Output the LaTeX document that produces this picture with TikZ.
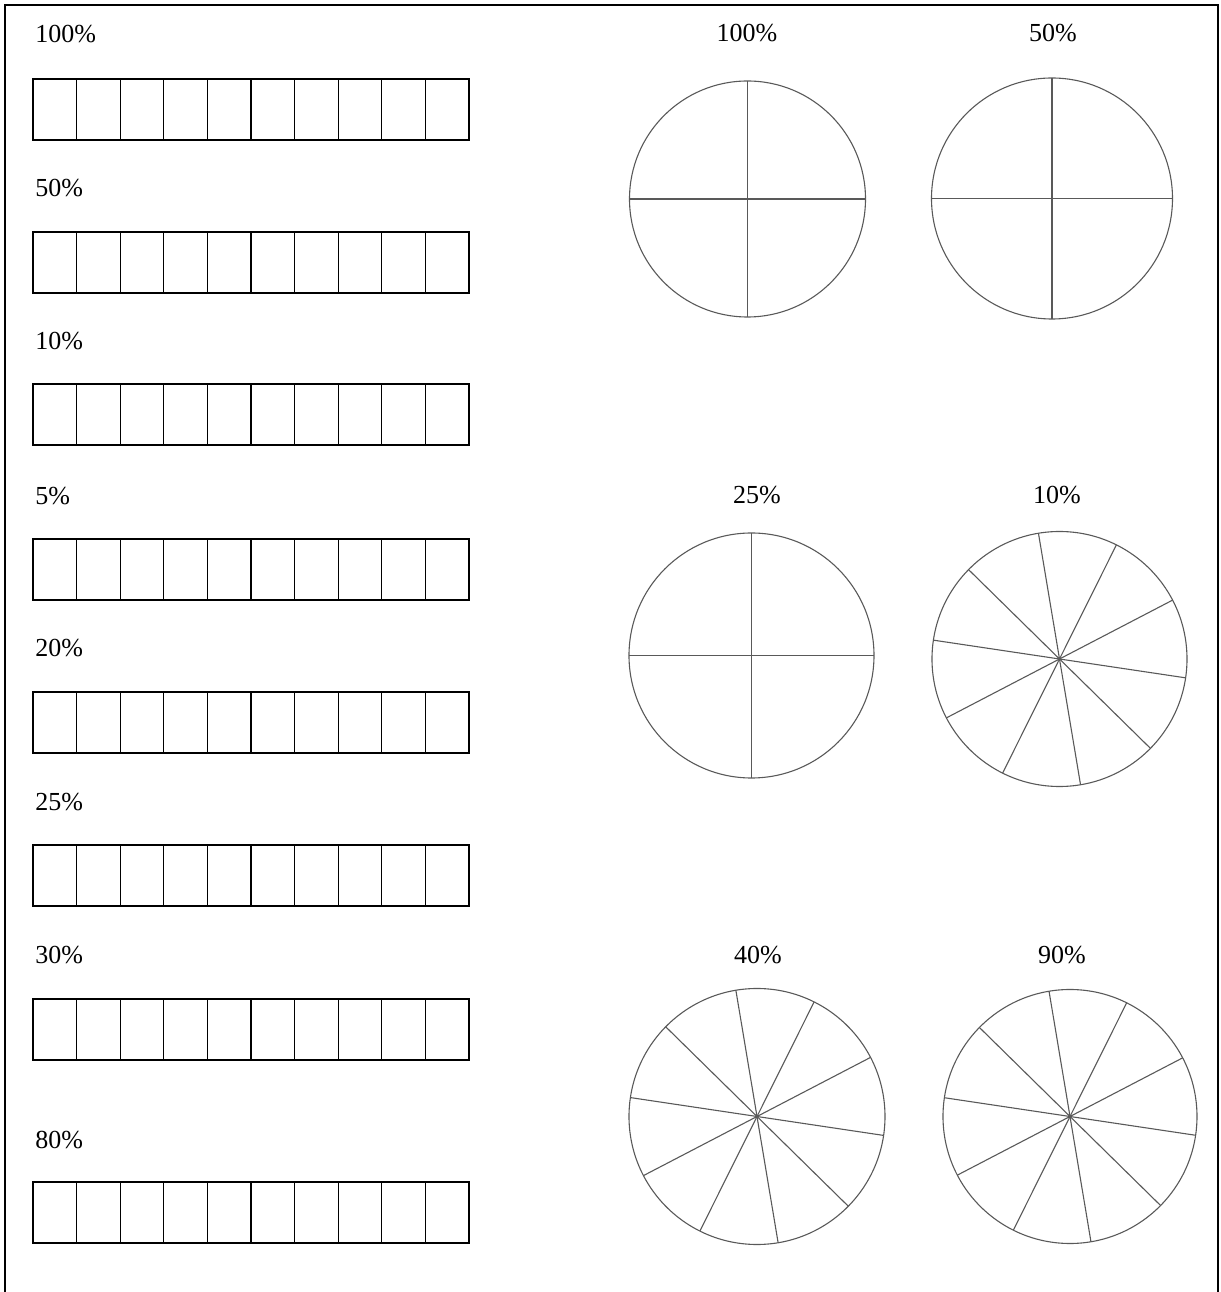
\documentclass[tikz,border=0pt]{standalone}
\usepackage{fontspec}
\setmainfont{Liberation Serif}
\usetikzlibrary{positioning}
\tikzset{
	frame/.style={line width=1pt},
	cell/.style={draw, line width=0.65pt, minimum width=21.8pt, minimum height=30.5pt, inner sep=0pt, outer sep=0pt},
	dial/.style={draw=black!65, circle, line width=0.55pt, inner sep=0pt, outer sep=0pt},
	spoke/.style={draw=black!65, line width=0.55pt},
	pct/.style={font=\fontsize{13}{15}\selectfont, inner sep=0pt}
}

\begin{document}
\begin{tikzpicture}[x=0.5pt, y=0.5pt]
	\useasboundingbox (0,0) rectangle (1221,1292);
	\draw[frame] (5,0) -- (5,1287) -- (1218,1287) -- (1218,0);
	% strips of ten cells
	\foreach \lab/\ly/\by [count=\r] in {100\%/1258/1182.5, 50\%/1104/1029.5, 10\%/951/877.5, 5\%/796/722.5, 20\%/644/569.5, 25\%/490/416.5, 30\%/337/262.5, 80\%/152/79.5} {
		\node[pct, anchor=west] (lab\r) at (35, \ly) {\lab};
		\foreach \i in {0,...,9} \node[cell] (c\r-\i) at (54.8+\i*43.6, \by) {};
	}
	% circles cut in four
	\node[dial, minimum size=118pt] (d100) at (747.5, 1093) {};
	\node[pct] (t100) at (747, 1259) {100\%};
	\node[dial, minimum size=120.5pt] (d50) at (1052, 1093.5) {};
	\node[pct] (t50) at (1053, 1259) {50\%};
	\node[dial, minimum size=122.5pt] (d25) at (751.5, 636.5) {};
	\node[pct] (t25) at (757, 797) {25\%};
	\foreach \d in {d100, d50, d25}
		\draw[spoke] (\d.north) -- (\d.south) (\d.west) -- (\d.east);
	% circles cut in ten
	\node[dial, minimum size=127.5pt] (d10) at (1059.5, 633) {};
	\node[pct] (t10) at (1057, 797) {10\%};
	\node[dial, minimum size=128pt] (d40) at (757, 175.5) {};
	\node[pct] (t40) at (758, 337) {40\%};
	\node[dial, minimum size=127pt] (d90) at (1070, 175.5) {};
	\node[pct] (t90) at (1062, 337) {90\%};
	\foreach \d/\rr in {d10/127.5, d40/128, d90/127}
		\foreach \a in {99.5, 63.5, 27.5, -8.5, -44.5}
			\draw[spoke] ([shift={(\a:\rr)}]\d.center) -- ([shift={(\a+180:\rr)}]\d.center);
\end{tikzpicture}
\end{document}
